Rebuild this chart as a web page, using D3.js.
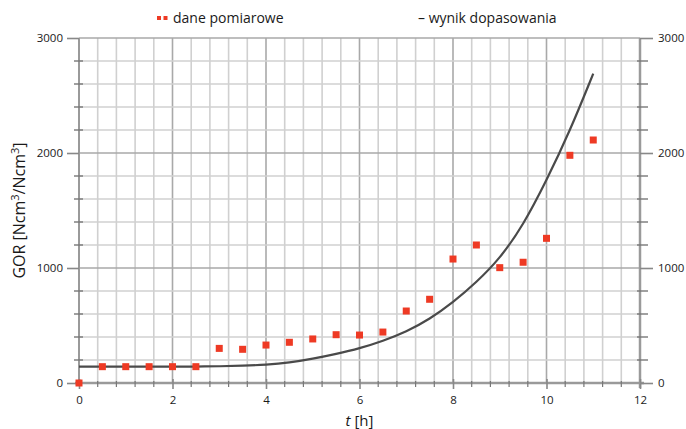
<!DOCTYPE html>
<html>
<head>
<meta charset="utf-8">
<script src="https://cdn.jsdelivr.net/npm/d3@7"></script>
<style>
  body { margin: 0; background: #fff; }
  text { font-family: "Open Sans", sans-serif; fill: #1a1a1a; }
</style>
</head>
<body>
<div id="chart"></div>
<script>
// data
const tMeasured = [0, 0.5, 1, 1.5, 2, 2.5, 3, 3.5, 4, 4.5, 5, 5.5, 6, 6.5, 7, 7.5, 8, 8.5, 9, 9.5, 10, 10.5, 11];
const gorMeasured = [0, 142, 142, 142, 142, 142, 301, 293, 330, 354, 383, 420, 417, 443, 626, 728, 1078, 1200, 1003, 1050, 1258, 1980, 2113];

const tFit = [0, 0.5, 1, 1.5, 2, 2.5, 3, 3.5, 4, 4.5, 5, 5.5, 6, 6.5, 7, 7.5, 8, 8.5, 9, 9.5, 10, 10.5, 11];
const gorFit = [142, 142, 142, 142, 142, 143, 145, 150, 158, 176, 210, 252, 300, 365, 445, 555, 700, 875, 1080, 1370, 1760, 2190, 2690];

const xTicks = [0, 2, 4, 6, 8, 10, 12];
const yTicks = [0, 1000, 2000, 3000];
const legendLabels = ["dane pomiarowe", "– wynik dopasowania"];

// dimensions
const W = 686, H = 429;
const plot = { left: 79, right: 640, top: 38, bottom: 383 };

const svg = d3.select("#chart")
  .append("svg")
  .attr("width", W)
  .attr("height", H);

// scales
const x = d3.scaleLinear().domain([0, 12]).range([plot.left, plot.right]);
const y = d3.scaleLinear().domain([0, 3000]).range([plot.bottom, plot.top]);

// grid: every 0.4 h and every 200
const xGrid = d3.range(0, 31).map(i => +(i * 0.4).toFixed(1));
const yGrid = d3.range(0, 16).map(i => i * 200);

svg.append("g")
  .selectAll("line")
  .data(xGrid)
  .join("line")
  .attr("x1", d => x(d)).attr("x2", d => x(d))
  .attr("y1", plot.top).attr("y2", plot.bottom)
  .attr("stroke", d => xTicks.includes(d) ? "#a9a9a9" : "#d0d0d0")
  .attr("stroke-width", 1.6);

svg.append("g")
  .selectAll("line")
  .data(yGrid)
  .join("line")
  .attr("x1", plot.left).attr("x2", plot.right)
  .attr("y1", d => y(d)).attr("y2", d => y(d))
  .attr("stroke", d => yTicks.includes(d) ? "#a9a9a9" : "#d0d0d0")
  .attr("stroke-width", 1.6);

// axes lines
const axisColor = "#9a9a9a";
svg.append("line")
  .attr("x1", x(0)).attr("x2", x(0)).attr("y1", y(3000)).attr("y2", y(0))
  .attr("stroke", axisColor).attr("stroke-width", 2);
svg.append("line")
  .attr("x1", x(12)).attr("x2", x(12)).attr("y1", y(3000)).attr("y2", y(0) + 5)
  .attr("stroke", axisColor).attr("stroke-width", 2.5);
svg.append("line")
  .attr("x1", x(0) - 4).attr("x2", x(12) + 4).attr("y1", y(0)).attr("y2", y(0))
  .attr("stroke", axisColor).attr("stroke-width", 2.5);

// minor ticks crossing the axes
svg.append("g")
  .selectAll("line")
  .data(yGrid.filter(d => !yTicks.includes(d)))
  .join("line")
  .attr("x1", x(0) - 5).attr("x2", x(0) + 4)
  .attr("y1", d => y(d)).attr("y2", d => y(d))
  .attr("stroke", "#777").attr("stroke-width", 1.4);

svg.append("g")
  .selectAll("line")
  .data(yGrid.filter(d => !yTicks.includes(d)))
  .join("line")
  .attr("x1", x(12) - 3).attr("x2", x(12) + 8)
  .attr("y1", d => y(d)).attr("y2", d => y(d))
  .attr("stroke", "#777").attr("stroke-width", 1.4);

svg.append("g")
  .selectAll("line")
  .data(xGrid.filter(d => !xTicks.includes(d)))
  .join("line")
  .attr("x1", d => x(d)).attr("x2", d => x(d))
  .attr("y1", y(0) - 2).attr("y2", y(0) + 4)
  .attr("stroke", "#777").attr("stroke-width", 1.2);

// labelled axes
const yAxisL = svg.append("g")
  .attr("transform", `translate(${x(0)},0)`)
  .call(d3.axisLeft(y).tickValues(yTicks).tickSize(12).tickPadding(4).tickFormat(d3.format("d")));
const yAxisR = svg.append("g")
  .attr("transform", `translate(${x(12)},0)`)
  .call(d3.axisRight(y).tickValues(yTicks).tickSize(13).tickPadding(5).tickFormat(d3.format("d")));
const xAxis = svg.append("g")
  .attr("transform", `translate(0,${y(0)})`)
  .call(d3.axisBottom(x).tickValues(xTicks).tickSize(6).tickPadding(7).tickFormat(d3.format("d")));

[yAxisL, yAxisR, xAxis].forEach(g => {
  g.select(".domain").remove();
  g.selectAll(".tick line").attr("stroke", "#888").attr("stroke-width", 1.6);
  g.selectAll(".tick text").attr("font-size", 11.5).attr("fill", "#1a1a1a");
});
xAxis.selectAll(".tick line").attr("y1", -4).attr("y2", 6);

// fit curve
const line = d3.line()
  .x((d, i) => x(tFit[i]))
  .y(d => y(d))
  .curve(d3.curveBasis);

svg.append("path")
  .datum(gorFit)
  .attr("d", line)
  .attr("fill", "none")
  .attr("stroke", "#4a4a4a")
  .attr("stroke-width", 2.2);

// measured points
const red = "#ee3a24";
svg.append("g")
  .selectAll("rect")
  .data(gorMeasured)
  .join("rect")
  .attr("x", (d, i) => x(tMeasured[i]) - 3.5)
  .attr("y", d => y(d) - 3.5)
  .attr("width", 7)
  .attr("height", 7)
  .attr("fill", red);

// axis titles
svg.append("text")
  .attr("x", (plot.left + plot.right) / 2)
  .attr("y", 426)
  .attr("text-anchor", "middle")
  .attr("font-size", 15)
  .call(t => {
    t.append("tspan").attr("font-style", "italic").text("t");
    t.append("tspan").text(" [h]");
  });

svg.append("text")
  .attr("transform", `translate(25,${(plot.top + plot.bottom) / 2}) rotate(-90)`)
  .attr("text-anchor", "middle")
  .attr("font-size", 16)
  .call(t => {
    t.append("tspan").text("GOR [Ncm");
    t.append("tspan").attr("dy", -6).attr("font-size", 11).text("3");
    t.append("tspan").attr("dy", 6).text("/Ncm");
    t.append("tspan").attr("dy", -6).attr("font-size", 11).text("3");
    t.append("tspan").attr("dy", 6).text("]");
  });

// legend
svg.append("g")
  .selectAll("rect")
  .data([0, 1])
  .join("rect")
  .attr("x", d => 157 + d * 6.5)
  .attr("y", 16)
  .attr("width", 4)
  .attr("height", 4)
  .attr("fill", red);

svg.append("text")
  .attr("x", 173).attr("y", 23)
  .attr("font-size", 14)
  .text(legendLabels[0]);

svg.append("text")
  .attr("x", 418).attr("y", 23)
  .attr("font-size", 14)
  .text(legendLabels[1]);
</script>
</body>
</html>
